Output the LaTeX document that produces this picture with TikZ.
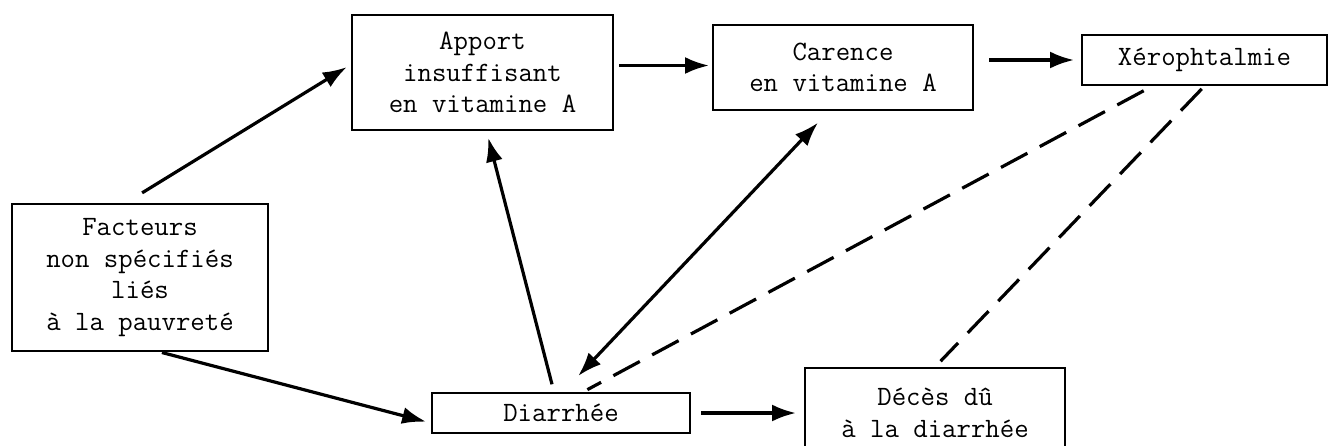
\documentclass[tikz,border=0pt]{standalone}
\usepackage{fontspec}
\usetikzlibrary{arrows.meta}

\begin{document}
\begin{tikzpicture}[x=1pt, y=1pt, every node/.style={font=\ttfamily\fontsize{28}{31.5}\selectfont}, box/.style={draw, line width=2pt, align=center, inner sep=0pt}, arrow/.style={-{Latex[length=24pt,width=17pt]}, line width=3.2pt}, dasharrow/.style={line width=3.2pt, dash pattern=on 30pt off 14pt}]
\useasboundingbox (0,0) rectangle (1330,-445);
\clip (0,0) rectangle (1330,-445);
\node[box, minimum width=256pt, minimum height=147pt] (facteurs) at (140,-277.5) {Facteurs\\non spécifiés\\liés\\à la pauvreté};
\node[box, minimum width=261pt, minimum height=115pt] (apport) at (482.5,-72.5) {Apport\\insuffisant\\en vitamine A};
\node[box, minimum width=260pt, minimum height=85pt] (carence) at (843,-67.5) {Carence\\en vitamine A};
\node[box, minimum width=245pt, minimum height=50pt] (xero) at (1204.5,-60) {Xérophtalmie};
\node[box, minimum width=258pt, minimum height=40pt] (diarrhee) at (561,-413) {Diarrhée};
\node[box, minimum width=260pt, minimum height=90pt] (deces) at (935,-413) {Décès dû\\à la diarrhée};
\draw[arrow, shorten <=6pt, shorten >=5pt] ([shift={(-3pt,7pt)}]facteurs.north) -- ([yshift=8pt]apport.west);
\draw[arrow, shorten <=5pt, shorten >=3pt] ([yshift=7pt]apport.east) -- ([yshift=7pt]apport.east -| carence.west);
\draw[arrow, shorten <=15pt, shorten >=7pt] (carence.east |- xero.west) -- (xero.west);
\draw[arrow, shorten <=2pt, shorten >=5pt] ([xshift=20pt]facteurs.south) -- ([yshift=-10pt]diarrhee.west);
\draw[arrow, shorten <=8pt, shorten >=7pt] ([xshift=-7pt]diarrhee.north) -- ([xshift=4pt]apport.south);
\draw[arrow, {Latex[length=24pt,width=17pt]}-{Latex[length=24pt,width=17pt]}, shorten <=22pt, shorten >=16pt] ([xshift=2pt]diarrhee.north) -- ([xshift=-14pt]carence.south);
\draw[arrow, shorten <=10pt, shorten >=8pt] (diarrhee.east) -- (diarrhee.east -| deces.west);
\draw[dasharrow, shorten <=10pt, shorten >=5pt] ([xshift=-52pt]xero.south) -- ([xshift=22pt]diarrhee.north);
\draw[dasharrow, shorten <=4pt, shorten >=8pt] (xero.south) -- (deces.north);
\end{tikzpicture}
\end{document}
